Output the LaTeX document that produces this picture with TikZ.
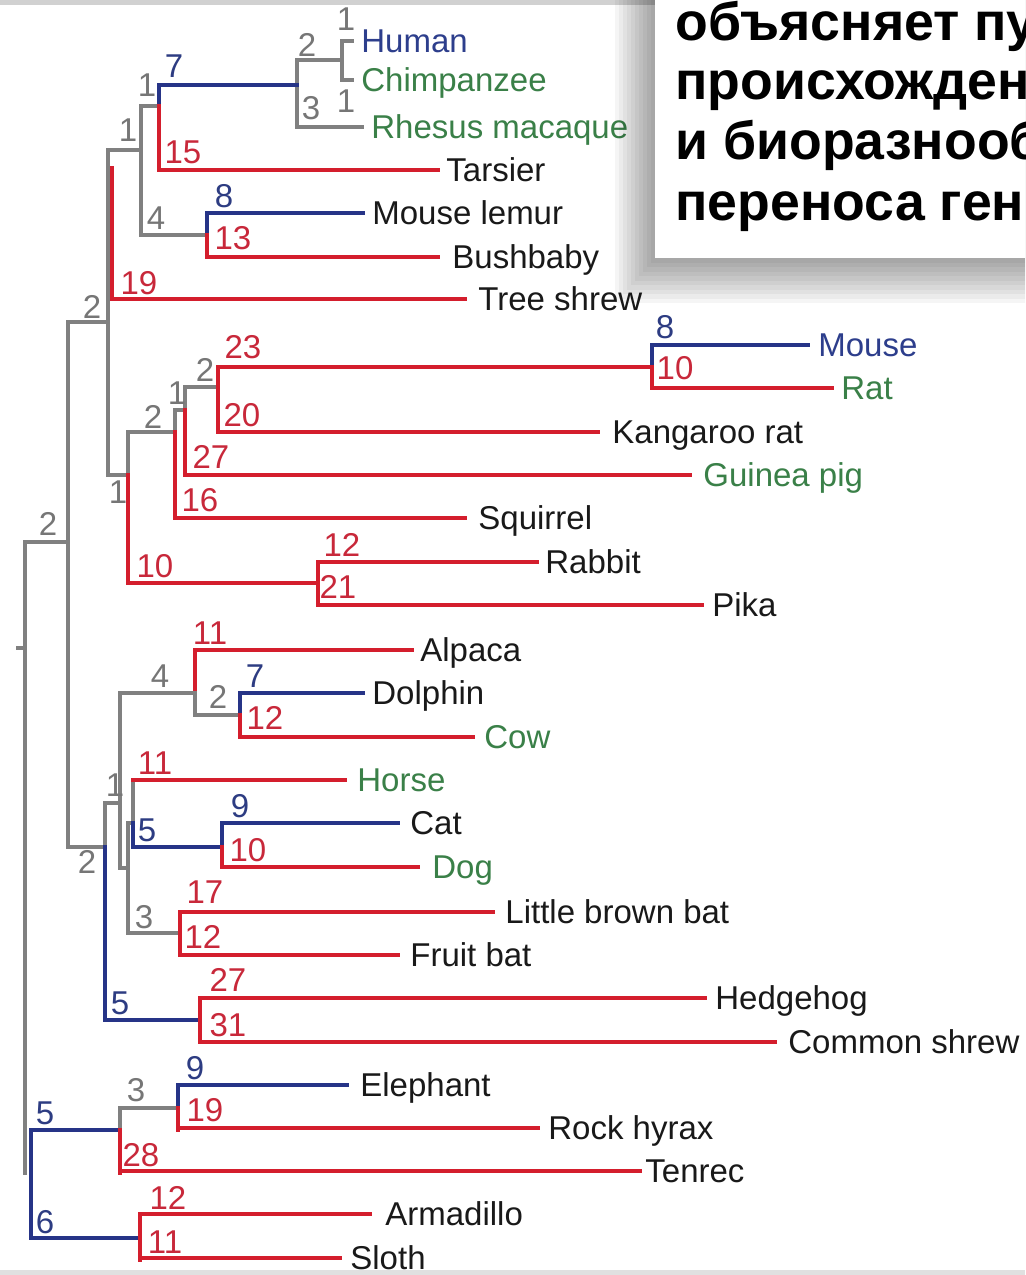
\documentclass[tikz,border=0pt]{standalone}
\usepackage{fontspec}
\setmainfont{Liberation Sans}
\newcommand\labfont{\fontsize{16.5}{18}\selectfont}
\newcommand\rufont{\bfseries\fontsize{26.8}{30}\selectfont}
\definecolor{tred}{RGB}{212,30,45}
\definecolor{tblue}{RGB}{38,52,135}
\definecolor{tgray}{RGB}{128,128,128}
\definecolor{cred}{RGB}{200,40,58}
\definecolor{cblue}{RGB}{45,60,130}
\definecolor{cgray}{RGB}{118,118,118}
\definecolor{cgreen}{RGB}{58,128,72}
\definecolor{cblueT}{RGB}{45,62,140}
\definecolor{cblack}{RGB}{25,25,25}
\newcommand\leafnode[8]{%
  \coordinate (#1-tip) at (#5,#7);
  \node[#3] (#1) at (#6,#7) {#8};
  \draw[#2] (#4,#7) -- (#1-tip);}
\begin{document}
\begin{tikzpicture}[x=0.5pt,y=-0.5pt,
  gr/.style={draw=tgray,line width=2.2pt,line cap=rect},
  rd/.style={draw=tred,line width=2.3pt,line cap=rect},
  bl/.style={draw=tblue,line width=1.8pt,line cap=rect},
  num/.style={inner sep=0pt,font=\labfont,text height=11.8pt,text depth=0pt},
  ng/.style={num,text=cgray},
  nr/.style={num,text=cred},
  nb/.style={num,text=cblue},
  leaf/.style={anchor=west,inner sep=0pt,font=\labfont,text height=11.8pt,text depth=0pt},
  lk/.style={leaf,text=cblack},
  lg/.style={leaf,text=cgreen},
  lb/.style={leaf,text=cblueT},
  ru/.style={anchor=base west,inner sep=0pt,font=\rufont,text=black}]
\useasboundingbox (0,0) rectangle (1025,1275);
\clip (0,0) rectangle (1025,1275);
\fill[white] (0,0) rectangle (1025,1275);
\fill[black!18] (0,0) rectangle (655,5);
\fill[black!12] (0,1270) rectangle (1025,1275);

% ---------- primates ----------
\draw[gr] (342,41) -- (342,80);
\leafnode{Human}{gr}{lb}{342}{352}{361}{41}{Human}
\leafnode{Chimp}{gr}{lg}{342}{352}{361}{80}{Chimpanzee}
\draw[gr] (297,60) -- (342,60);
\draw[gr] (297,60) -- (297,127);
\leafnode{Rhesus}{gr}{lg}{297}{362}{371}{127}{Rhesus macaque}
\draw[bl] (159,85) -- (297,85);
\draw[bl] (159,85) -- (159,106);
\draw[gr] (141,106) -- (159,106);
\draw[rd] (159,106) -- (159,170);
\leafnode{Tarsier}{rd}{lk}{159}{438}{446}{170}{Tarsier}
\draw[gr] (141,106) -- (141,235);
\draw[gr] (141,235) -- (207,235);
\draw[bl] (207,213) -- (207,235);
\draw[rd] (207,235) -- (207,257);
\leafnode{Mlemur}{bl}{lk}{207}{363}{372}{213}{Mouse lemur}
\leafnode{Bushbaby}{rd}{lk}{207}{438}{452}{257}{Bushbaby}
\draw[gr] (108,150) -- (141,150);
\draw[gr] (108,150) -- (108,475);
\draw[rd] (112,168) -- (112,299);
\leafnode{Tshrew}{rd}{lk}{112}{465}{478}{299}{Tree shrew}
\draw[gr] (68,322) -- (108,322);

\node[ng] (a1) at (346,19) {1};
\node[ng] (a2) at (346,101) {1};
\node[ng] (a3) at (307,45) {2};
\node[ng] (a4) at (311,108) {3};
\node[nb] (a5) at (174,66) {7};
\node[ng] (a6) at (147,85) {1};
\node[nr] (a7) at (183,152) {15};
\node[ng] (a8) at (156,218) {4};
\node[nb] (a9) at (224,196) {8};
\node[nr] (a10) at (233,238) {13};
\node[ng] (a11) at (128,130) {1};
\node[nr] (a12) at (139,283) {19};
\node[ng] (a13) at (92,307) {2};

% ---------- glires ----------
\draw[gr] (108,475) -- (128,475);
\draw[gr] (128,432) -- (128,475);
\draw[rd] (128,475) -- (128,583);
\draw[gr] (128,432) -- (175,432);
\draw[gr] (175,410) -- (175,432);
\draw[rd] (175,432) -- (175,518);
\leafnode{Squirrel}{rd}{lk}{175}{465}{478}{518}{Squirrel}
\draw[gr] (175,410) -- (185,410);
\draw[gr] (185,387) -- (185,410);
\draw[rd] (185,410) -- (185,475);
\leafnode{Guinea}{rd}{lg}{185}{690}{703}{475}{Guinea pig}
\draw[gr] (185,387) -- (218,387);
\draw[rd] (218,367) -- (218,432);
\draw[rd] (218,367) -- (652,367);
\leafnode{Krat}{rd}{lk}{218}{598}{612}{432}{Kangaroo rat}
\draw[bl] (652,345) -- (652,367);
\draw[rd] (652,367) -- (652,388);
\leafnode{Mouse}{bl}{lb}{652}{808}{818}{345}{Mouse}
\leafnode{Rat}{rd}{lg}{652}{832}{841}{388}{Rat}
\draw[rd] (128,583) -- (318,583);
\draw[rd] (318,562) -- (318,605);
\leafnode{Rabbit}{rd}{lk}{318}{537}{545}{562}{Rabbit}
\leafnode{Pika}{rd}{lk}{318}{702}{712}{605}{Pika}

\node[ng] (b1) at (205,370) {2};
\node[nr] (b2) at (243,347) {23};
\node[ng] (b3) at (177,393) {1};
\node[nr] (b4) at (242,415) {20};
\node[ng] (b5) at (153,417) {2};
\node[nr] (b6) at (211,457) {27};
\node[nr] (b7) at (200,500) {16};
\node[ng] (b8) at (118,492) {1};
\node[nr] (b9) at (155,566) {10};
\node[nr] (b10) at (342,545) {12};
\node[nr] (b11) at (338,587) {21};
\node[nb] (b12) at (665,327) {8};
\node[nr] (b13) at (675,368) {10};

% ---------- backbone ----------
\draw[gr] (68,322) -- (68,847);
\draw[gr] (25,542) -- (68,542);
\draw[gr] (25,542) -- (25,1173);
\draw[gr] (18,648) -- (25,648);
\draw[gr] (68,847) -- (105,847);
\node[ng] (c1) at (48,524) {2};
\node[ng] (c2) at (87,862) {2};

% ---------- laurasiatheria ----------
\draw[gr] (105,803) -- (105,847);
\draw[bl] (105,847) -- (105,1020);
\draw[gr] (105,803) -- (120,803);
\draw[gr] (120,693) -- (120,868);
\draw[gr] (120,693) -- (195,693);
\draw[rd] (195,650) -- (195,693);
\draw[gr] (195,693) -- (195,715);
\leafnode{Alpaca}{rd}{lk}{195}{412}{420}{650}{Alpaca}
\draw[gr] (195,715) -- (240,715);
\draw[bl] (240,693) -- (240,715);
\draw[rd] (240,715) -- (240,737);
\leafnode{Dolphin}{bl}{lk}{240}{363}{372}{693}{Dolphin}
\leafnode{Cow}{rd}{lg}{240}{473}{484}{737}{Cow}
\draw[gr] (120,868) -- (128,868);
\draw[gr] (128,823) -- (128,933);
\draw[gr] (128,823) -- (133,823);
\draw[gr] (133,780) -- (133,823);
\draw[bl] (133,823) -- (133,847);
\leafnode{Horse}{rd}{lg}{133}{345}{357}{780}{Horse}
\draw[bl] (133,847) -- (222,847);
\draw[bl] (222,823) -- (222,847);
\draw[rd] (222,847) -- (222,867);
\leafnode{Cat}{bl}{lk}{222}{398}{410}{823}{Cat}
\leafnode{Dog}{rd}{lg}{222}{418}{432}{867}{Dog}
\draw[gr] (128,933) -- (180,933);
\draw[rd] (180,912) -- (180,955);
\leafnode{Lbb}{rd}{lk}{180}{493}{505}{912}{Little brown bat}
\leafnode{Fbat}{rd}{lk}{180}{398}{410}{955}{Fruit bat}
\draw[bl] (105,1020) -- (200,1020);
\draw[rd] (200,998) -- (200,1042);
\leafnode{Hedgehog}{rd}{lk}{200}{705}{715}{998}{Hedgehog}
\leafnode{Cshrew}{rd}{lk}{200}{775}{788}{1042}{Common shrew}

\node[ng] (d1) at (115,785) {1};
\node[ng] (d2) at (160,676) {4};
\node[nr] (d3) at (210,633) {11};
\node[ng] (d4) at (218,697) {2};
\node[nb] (d5) at (255,676) {7};
\node[nr] (d6) at (265,718) {12};
\node[nr] (d7) at (155,763) {11};
\node[nb] (d8) at (147,830) {5};
\node[nb] (d9) at (240,806) {9};
\node[nr] (d10) at (248,850) {10};
\node[ng] (d11) at (144,917) {3};
\node[nr] (d12) at (205,892) {17};
\node[nr] (d13) at (203,937) {12};
\node[nb] (d14) at (120,1003) {5};
\node[nr] (d15) at (228,980) {27};
\node[nr] (d16) at (228,1025) {31};

% ---------- afrotheria / xenarthra ----------
\draw[bl] (31,1130) -- (31,1238);
\draw[bl] (31,1130) -- (120,1130);
\draw[gr] (120,1108) -- (120,1130);
\draw[rd] (120,1130) -- (120,1173);
\draw[gr] (120,1108) -- (178,1108);
\draw[bl] (178,1085) -- (178,1108);
\draw[rd] (178,1108) -- (178,1130);
\leafnode{Elephant}{bl}{lk}{178}{347}{360}{1085}{Elephant}
\leafnode{Rhyrax}{rd}{lk}{178}{538}{548}{1128}{Rock hyrax}
\leafnode{Tenrec}{rd}{lk}{120}{640}{645}{1171}{Tenrec}
\draw[bl] (31,1238) -- (140,1238);
\draw[rd] (140,1216) -- (140,1260);
\leafnode{Armadillo}{rd}{lk}{140}{370}{385}{1214}{Armadillo}
\leafnode{Sloth}{rd}{lk}{140}{340}{350}{1258}{Sloth}

\node[nb] (e1) at (45,1113) {5};
\node[ng] (e2) at (136,1090) {3};
\node[nb] (e3) at (195,1068) {9};
\node[nr] (e4) at (205,1110) {19};
\node[nr] (e5) at (141,1155) {28};
\node[nb] (e6) at (45,1222) {6};
\node[nr] (e7) at (168,1198) {12};
\node[nr] (e8) at (165,1242) {11};

% ---------- text box with shadow ----------
\foreach \i in {1,...,10}
  \fill[black,opacity=0.04] ({655-4*\i},-10) rectangle (1035,{258+4.5*\i});
\fill[white] (655,-10) rectangle (1035,258);
\node[ru] (r1) at (675,40) {объясняет пу};
\node[ru] (r2) at (675,99) {происхожден};
\node[ru] (r3) at (675,159) {и биоразнооб};
\node[ru] (r4) at (675,220) {переноса гене};
\end{tikzpicture}
\end{document}
